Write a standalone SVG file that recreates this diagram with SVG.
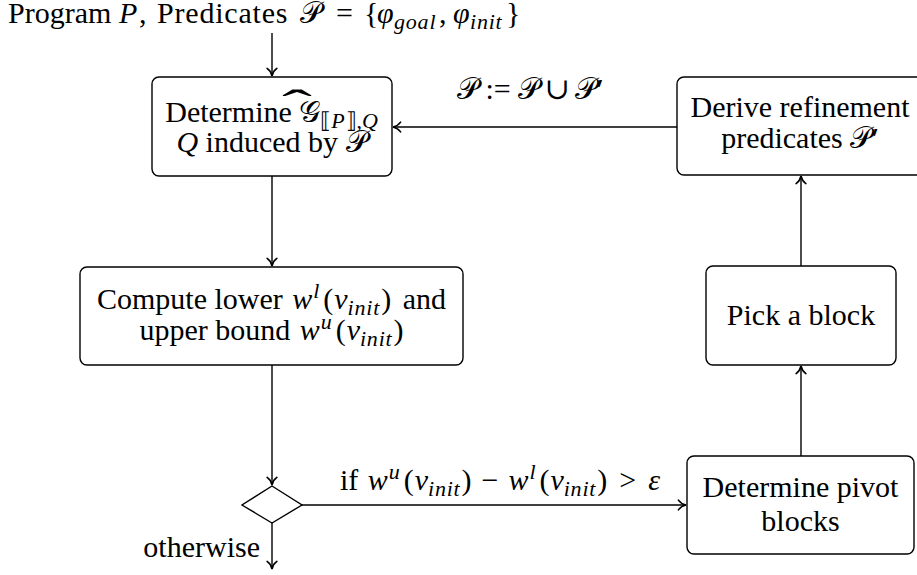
<svg xmlns="http://www.w3.org/2000/svg" width="917" height="575" viewBox="0 0 917 575">
<style>
text{font-family:"Liberation Serif","Times New Roman","DejaVu Serif",serif;font-size:30px;fill:#000}
.c{text-anchor:middle}
.i{font-style:italic}
.s{font-size:22px;font-style:italic;letter-spacing:0.8px}
.u{font-style:normal;letter-spacing:0}
.cal{font-family:"DejaVu Sans","Liberation Serif",serif;font-style:normal}
.box{fill:#fff;stroke:#000;stroke-width:1.4}
.edge{fill:none;stroke:#000;stroke-width:1.4}
</style>
<defs>
<marker id="arr" markerUnits="userSpaceOnUse" markerWidth="14" markerHeight="14" viewBox="-8 -6 10 12" refX="0" refY="0" orient="auto">
<path d="M-6.5,-4.2 C-4.8,-1.6 -1.8,-0.4 0,0 C-1.8,0.4 -4.8,1.6 -6.5,4.2" fill="none" stroke="#000" stroke-width="1.4" stroke-linecap="round"/>
</marker>
</defs>

<g id="input">
<text x="8" y="23">Program <tspan class="i" x="119">P</tspan><tspan x="139">,</tspan><tspan x="157" letter-spacing="0.8">Predicates</tspan><tspan class="cal" x="300">𝒫</tspan><tspan x="336">=</tspan><tspan x="364">{</tspan><tspan class="i" x="377">φ</tspan><tspan class="s" x="394" dy="6">goal</tspan><tspan x="439" dy="-6">,</tspan><tspan class="i" x="453">φ</tspan><tspan class="s" x="470" dy="6">init</tspan><tspan x="506" dy="-6">}</tspan></text>
</g>

<g id="connectors">
<line class="edge" x1="272" y1="33" x2="272" y2="76" marker-end="url(#arr)"/>
<line class="edge" x1="272" y1="176" x2="272" y2="266" marker-end="url(#arr)"/>
<line class="edge" x1="272" y1="365" x2="272" y2="485" marker-end="url(#arr)"/>
<line class="edge" x1="272" y1="523" x2="272" y2="569" marker-end="url(#arr)"/>
<line class="edge" x1="302" y1="505" x2="686" y2="505" marker-end="url(#arr)"/>
<line class="edge" x1="801" y1="456" x2="801" y2="366" marker-end="url(#arr)"/>
<line class="edge" x1="801" y1="266" x2="801" y2="176" marker-end="url(#arr)"/>
<line class="edge" x1="677" y1="127" x2="393" y2="127" marker-end="url(#arr)"/>
<text class="c" x="530" y="99"><tspan class="cal">𝒫</tspan><tspan dx="7">:=</tspan><tspan class="cal" dx="7">𝒫</tspan><tspan dx="5">∪</tspan><tspan class="cal" dx="5">𝒫</tspan>′</text>
<text class="c" x="500" y="490">if <tspan class="i" dx="2">w</tspan><tspan class="s" dy="-11" dx="1">u</tspan><tspan dy="11" dx="3">(</tspan><tspan class="i" dx="1">v</tspan><tspan class="s" dy="6">init</tspan><tspan dy="-6" dx="1">)</tspan><tspan dx="10">−</tspan><tspan class="i" dx="10">w</tspan><tspan class="s" dy="-11" dx="1">l</tspan><tspan dy="11" dx="3">(</tspan><tspan class="i" dx="1">v</tspan><tspan class="s" dy="6">init</tspan><tspan dy="-6" dx="1">)</tspan><tspan dx="12">&gt;</tspan><tspan class="i" dx="12">ε</tspan></text>
<text x="260" y="557" text-anchor="end">otherwise</text>
</g>

<g id="determine-game">
<rect class="box" x="152" y="77" width="240" height="99" rx="7"/>
<text class="c" x="272" y="122">Determine <tspan class="cal">𝒢</tspan><tspan class="s u" dy="6">⟦</tspan><tspan class="s">P</tspan><tspan class="s u">⟧,</tspan><tspan class="s">Q</tspan></text>
<text class="c" transform="translate(297,119) scale(3,1.4)" style="font-size:30px">ˆ</text>
<text class="c" x="272" y="152"><tspan class="i">Q</tspan> induced by <tspan class="cal">𝒫</tspan></text>
</g>

<g id="compute-bounds">
<rect class="box" x="80" y="267" width="383" height="98" rx="7"/>
<text class="c" x="271.5" y="309">Compute lower <tspan class="i" dx="2">w</tspan><tspan class="s" dy="-11" dx="1">l</tspan><tspan dy="11" dx="3">(</tspan><tspan class="i" dx="1">v</tspan><tspan class="s" dy="6">init</tspan><tspan dy="-6" dx="1">)</tspan><tspan dx="4"> and</tspan></text>
<text class="c" x="271.5" y="340">upper bound <tspan class="i" dx="2">w</tspan><tspan class="s" dy="-11" dx="1">u</tspan><tspan dy="11" dx="3">(</tspan><tspan class="i" dx="1">v</tspan><tspan class="s" dy="6">init</tspan><tspan dy="-6" dx="1">)</tspan></text>
</g>

<g id="decision">
<polygon class="box" points="272,486 302,505 272,523 242,505"/>
</g>

<g id="pivot-blocks">
<rect class="box" x="687" y="456" width="227" height="98" rx="7"/>
<text class="c" x="800.5" y="497">Determine pivot</text>
<text class="c" x="800.5" y="531">blocks</text>
</g>

<g id="pick-block">
<rect class="box" x="706" y="266" width="190" height="99" rx="7"/>
<text class="c" x="801" y="325">Pick a block</text>
</g>

<g id="derive-predicates">
<rect class="box" x="677" y="77" width="248" height="98" rx="7"/>
<text class="c" x="800" y="117">Derive refinement</text>
<text class="c" x="800" y="148">predicates <tspan class="cal">𝒫</tspan>′</text>
</g>
</svg>
